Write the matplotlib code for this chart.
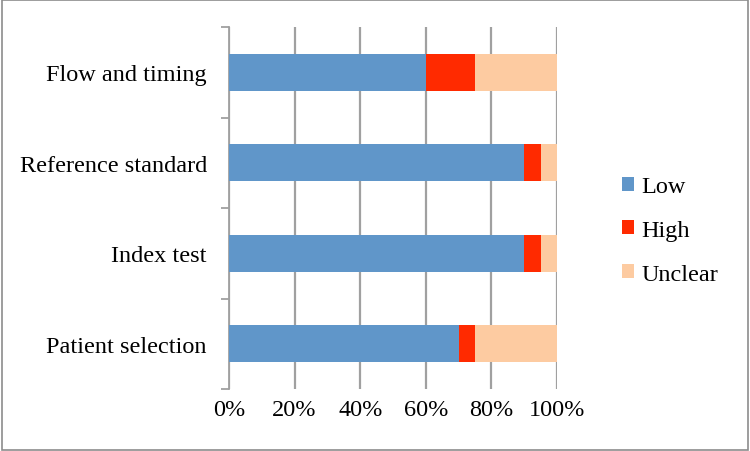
import matplotlib
matplotlib.use("Agg")
import matplotlib.pyplot as plt
from matplotlib.patches import Rectangle
import numpy as np

categories = ["Patient selection", "Index test", "Reference standard", "Flow and timing"]
low = [70, 90, 90, 60]
high = [5, 5, 5, 15]
unclear = [25, 5, 5, 25]
series_names = ["Low", "High", "Unclear"]
colors = ["#6096C9", "#FF2A00", "#FDCBA1"]
xticks = [0, 20, 40, 60, 80, 100]
xtick_labels = ["0%", "20%", "40%", "60%", "80%", "100%"]

plt.rcParams['font.family'] = ['Liberation Serif', 'DejaVu Serif']

fig = plt.figure(figsize=(7.5, 4.52), dpi=100)
ax = fig.add_axes([229/750, 1-390/452, (557-229)/750, (390-28)/452])

y = np.arange(len(categories))
left = np.zeros(len(categories))
for vals, name, c in zip([low, high, unclear], series_names, colors):
    ax.barh(y, vals, left=left, height=0.41, color=c, label=name, zorder=3)
    left += np.array(vals)

ax.set_xlim(0, 100)
ax.set_ylim(-0.5, len(categories) - 0.5)
ax.set_xticks(xticks)
ax.set_xticklabels(xtick_labels, fontsize=17.5)
ax.set_yticks(y)
ax.set_yticklabels(categories, fontsize=17.5)
ax.tick_params(axis='y', length=0, pad=16)
ax.tick_params(axis='x', length=0, pad=7)
ax.set_yticks(np.arange(-0.5, len(categories), 1.0), minor=True)
ax.tick_params(axis='y', which='minor', length=6, color='#A0A0A0', width=1.3)
ax.xaxis.grid(True, color='#A0A0A0', linewidth=1.6, zorder=0)
ax.set_axisbelow(True)
for s in ['top', 'right', 'bottom']:
    ax.spines[s].set_visible(False)
ax.spines['left'].set_color('#A0A0A0')
ax.spines['left'].set_linewidth(1.3)

leg = fig.legend(loc='center left', bbox_to_anchor=(0.8, 0.488), frameon=False,
                 fontsize=17.5, handlelength=0.5, handleheight=0.5, handletextpad=0.3,
                 labelspacing=0.93)

fig.patches.append(Rectangle((0.002, 0.003), 0.995, 0.994, transform=fig.transFigure,
                             fill=False, edgecolor='#8C8C8C', linewidth=1.2))

fig.savefig("out.png", dpi=100)
